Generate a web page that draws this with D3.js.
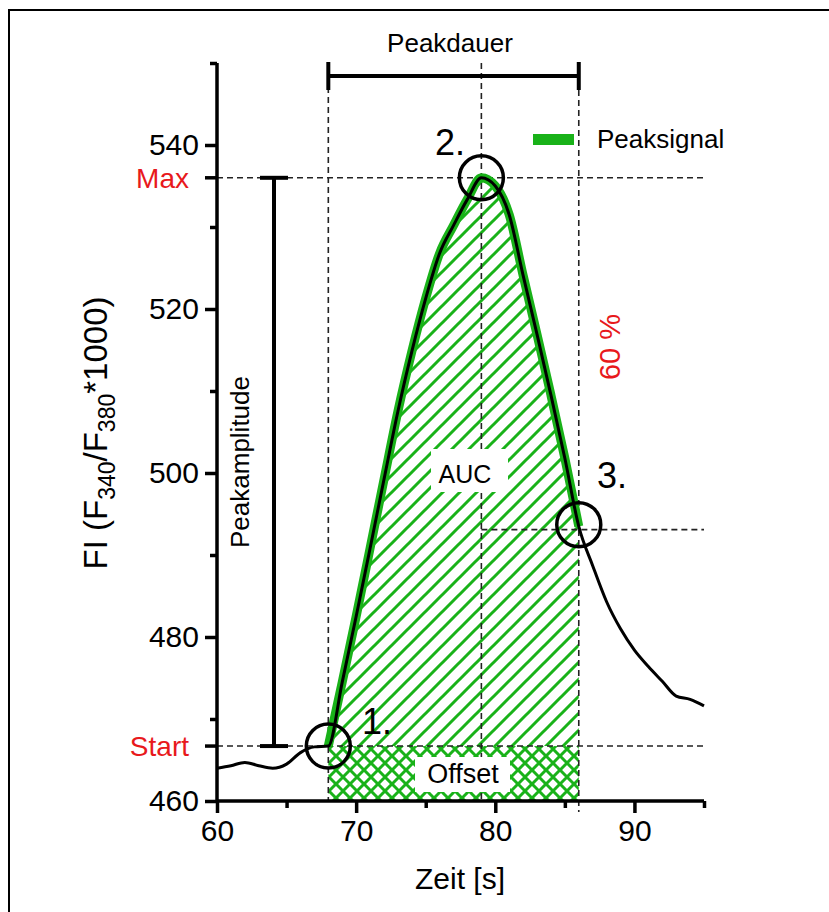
<!DOCTYPE html>
<html>
<head>
<meta charset="utf-8">
<script src="https://cdn.jsdelivr.net/npm/d3@7"></script>
<style>
  body { margin: 0; background: #fff; }
  text { font-family: "Liberation Sans", Arial, sans-serif; }
</style>
</head>
<body>
<div id="chart"></div>
<script>
// time in s and ratio values
var times = [60, 61, 62, 63, 64, 65, 66, 67, 68, 69, 70, 71, 72, 73, 74, 75, 76, 77,
             78, 79, 80, 81, 82, 83, 84, 85, 86, 87, 88, 89, 90, 91, 92, 93, 94, 95];
var values = [464.0, 464.3, 464.7, 464.3, 464.0, 464.5, 465.9, 466.6, 466.7, 474.5, 482.5, 490.8,
              499.2, 507.5, 514.8, 521.3, 526.8, 530.2, 533.4, 536.0, 535.0, 531.5, 524.1, 516.9,
              509.5, 501.8, 493.5, 488.7, 484.3, 481.0, 478.4, 476.4, 474.6, 472.8, 472.4, 471.6];

var peakStart = 68, peakMax = 79, peakEnd = 86;
var startLevel = 466.7, maxLevel = 536.0, decayLevel = 493.1;

var xTicks = [60, 70, 80, 90];
var xMinor = [65, 75, 85, 95];
var yTicks = [460, 480, 500, 520, 540];
var yMinor = [470, 490, 510, 530, 550];

var width = 829, height = 912;
var green = "#19b219", red = "#e8191c";

var svg = d3.select("#chart").append("svg").attr("width", width).attr("height", height);

var x = d3.scaleLinear().domain([60, 95]).range([217, 704]);
var y = d3.scaleLinear().domain([460, 550]).range([801, 63]);

var data = times.map(function (t, i) { return { t: t, v: values[i] }; });
var peak = data.filter(function (d) { return d.t >= peakStart && d.t <= peakEnd; });

// frame
svg.append("path").attr("d", "M9,912 L9,10 L829,10").attr("fill", "none")
  .attr("stroke", "#000").attr("stroke-width", 2);

// hatch patterns
var defs = svg.append("defs");
var s = 17;
defs.append("pattern").attr("id", "diag").attr("patternUnits", "userSpaceOnUse")
  .attr("width", s).attr("height", s)
  .append("path")
  .attr("d", "M0," + s + " L" + s + ",0 M" + (-s / 4) + "," + (s / 4) + " L" + (s / 4) + "," + (-s / 4) +
    " M" + (3 * s / 4) + "," + (5 * s / 4) + " L" + (5 * s / 4) + "," + (3 * s / 4))
  .attr("stroke", green).attr("stroke-width", 3);
var c = 14;
var cross = defs.append("pattern").attr("id", "cross").attr("patternUnits", "userSpaceOnUse")
  .attr("width", c).attr("height", c);
cross.append("path").attr("d", "M0,0 L" + c + "," + c + " M0," + c + " L" + c + ",0")
  .attr("stroke", green).attr("stroke-width", 3).attr("stroke-linecap", "square");

var area = d3.area().x(function (d) { return x(d.t); })
  .y0(y(startLevel)).y1(function (d) { return y(d.v); }).curve(d3.curveMonotoneX);
svg.append("path").datum(peak).attr("d", area).attr("fill", "url(#diag)");

svg.append("rect").attr("x", x(peakStart)).attr("y", y(startLevel))
  .attr("width", x(peakEnd) - x(peakStart)).attr("height", y(460) - y(startLevel))
  .attr("fill", "url(#cross)");

// dashed guides
function dashed(x1, y1, x2, y2) {
  svg.append("line").attr("x1", x1).attr("y1", y1).attr("x2", x2).attr("y2", y2)
    .attr("stroke", "#222").attr("stroke-width", 1.6).attr("stroke-dasharray", "6,4");
}
dashed(x(peakStart), 77, x(peakStart), y(460));
dashed(x(peakMax), 63, x(peakMax), y(460));
dashed(x(peakEnd), 90, x(peakEnd), 812);
dashed(x(60), y(maxLevel), x(95), y(maxLevel));
dashed(x(60), y(startLevel), x(95), y(startLevel));
dashed(x(peakMax), y(decayLevel), x(95), y(decayLevel));

// traces
var line = d3.line().x(function (d) { return x(d.t); }).y(function (d) { return y(d.v); })
  .curve(d3.curveMonotoneX);
svg.append("path").datum(peak).attr("d", line).attr("fill", "none")
  .attr("stroke", green).attr("stroke-width", 9).attr("stroke-linejoin", "miter");
svg.append("path").datum(data).attr("d", line).attr("fill", "none")
  .attr("stroke", "#000").attr("stroke-width", 3);

// labelled boxes
svg.append("rect").attr("x", 431).attr("y", 449).attr("width", 77).attr("height", 43).attr("fill", "#fff");
svg.append("text").attr("x", 465).attr("y", 483).attr("text-anchor", "middle")
  .attr("font-size", 25).text("AUC");
svg.append("rect").attr("x", 415).attr("y", 757).attr("width", 95).attr("height", 35).attr("fill", "#fff");
svg.append("text").attr("x", 463).attr("y", 783).attr("text-anchor", "middle")
  .attr("font-size", 27).text("Offset");

// circles at the three key points
var marks = [
  { t: peakStart, v: startLevel, label: "1.", lx: 362, ly: 734 },
  { t: peakMax, v: maxLevel, label: "2.", lx: 435, ly: 155 },
  { t: peakEnd, v: decayLevel + 0.6, label: "3.", lx: 597, ly: 488 }
];
svg.selectAll("circle.mark").data(marks).enter().append("circle")
  .attr("cx", function (d) { return x(d.t); }).attr("cy", function (d) { return y(d.v); })
  .attr("r", 22).attr("fill", "none").attr("stroke", "#000").attr("stroke-width", 3.5);
svg.selectAll("text.mark").data(marks).enter().append("text")
  .attr("x", function (d) { return d.lx; }).attr("y", function (d) { return d.ly; })
  .attr("font-size", 36).text(function (d) { return d.label; });

// Peakdauer bar
var barY = 76;
svg.append("line").attr("x1", x(peakStart)).attr("x2", x(peakEnd)).attr("y1", barY).attr("y2", barY)
  .attr("stroke", "#000").attr("stroke-width", 4);
[peakStart, peakEnd].forEach(function (t) {
  svg.append("line").attr("x1", x(t)).attr("x2", x(t)).attr("y1", 62).attr("y2", 90)
    .attr("stroke", "#000").attr("stroke-width", 4);
});
svg.append("text").attr("x", 450).attr("y", 52).attr("text-anchor", "middle")
  .attr("font-size", 26).text("Peakdauer");

// Peakamplitude bar
var ampX = 274;
svg.append("line").attr("x1", ampX).attr("x2", ampX).attr("y1", y(maxLevel)).attr("y2", y(startLevel))
  .attr("stroke", "#000").attr("stroke-width", 4);
[maxLevel, startLevel].forEach(function (v) {
  svg.append("line").attr("x1", ampX - 14).attr("x2", ampX + 14).attr("y1", y(v)).attr("y2", y(v))
    .attr("stroke", "#000").attr("stroke-width", 4);
});
svg.append("text").attr("transform", "translate(249,462) rotate(-90)").attr("text-anchor", "middle")
  .attr("font-size", 26).text("Peakamplitude");

svg.append("text").attr("transform", "translate(620,347) rotate(-90)").attr("text-anchor", "middle")
  .attr("font-size", 29).attr("fill", red).text("60 %");

// legend
svg.append("rect").attr("x", 533).attr("y", 134).attr("width", 41).attr("height", 11).attr("fill", green);
svg.append("text").attr("x", 597).attr("y", 148).attr("font-size", 26).text("Peaksignal");

// axes
var yAxis = d3.axisLeft(y).tickValues(yTicks).tickSize(12).tickPadding(6).tickFormat(d3.format("d"));
var yAxisMinor = d3.axisLeft(y).tickValues(yMinor).tickSize(7).tickFormat("");
var xAxis = d3.axisBottom(x).tickValues(xTicks).tickSize(12).tickPadding(7).tickFormat(d3.format("d"));
var xAxisMinor = d3.axisBottom(x).tickValues(xMinor).tickSize(7).tickFormat("");

function styleAxis(g) {
  g.select(".domain").attr("stroke-width", 3.5).attr("stroke", "#000");
  g.selectAll(".tick line").attr("stroke-width", 3.5).attr("stroke", "#000");
  g.selectAll(".tick text").attr("font-size", 30).attr("fill", "#000")
    .attr("font-family", "'Liberation Sans', Arial, sans-serif");
}
var gy = svg.append("g").attr("transform", "translate(217,0)").call(yAxis).call(styleAxis);
svg.append("g").attr("transform", "translate(217,0)").call(yAxisMinor).call(styleAxis)
  .select(".domain").remove();
var gx = svg.append("g").attr("transform", "translate(0,801)").call(xAxis).call(styleAxis);
svg.append("g").attr("transform", "translate(0,801)").call(xAxisMinor).call(styleAxis)
  .select(".domain").remove();
gy.select(".domain").attr("d", "M0," + y(550) + "V" + y(460));
gx.select(".domain").attr("d", "M" + x(60) + ",0H" + x(95));

// Max / Start ticks with red labels
[{ v: maxLevel, label: "Max" }, { v: startLevel, label: "Start" }].forEach(function (d) {
  svg.append("line").attr("x1", 205).attr("x2", 217).attr("y1", y(d.v)).attr("y2", y(d.v))
    .attr("stroke", "#000").attr("stroke-width", 3.5);
  svg.append("text").attr("x", 189).attr("y", y(d.v)).attr("dy", "0.35em").attr("text-anchor", "end")
    .attr("font-size", 28).attr("fill", red).text(d.label);
});

// axis titles
svg.append("text").attr("x", 460).attr("y", 889).attr("text-anchor", "middle")
  .attr("font-size", 30).text("Zeit [s]");

var yt = svg.append("text").attr("transform", "translate(107,433) rotate(-90)")
  .attr("text-anchor", "middle").attr("font-size", 33);
yt.append("tspan").text("FI (F");
yt.append("tspan").attr("font-size", 23).attr("dy", 8).text("340");
yt.append("tspan").attr("dy", -8).text("/F");
yt.append("tspan").attr("font-size", 23).attr("dy", 8).text("380");
yt.append("tspan").attr("dy", -8).text("*1000)");
</script>
</body>
</html>
